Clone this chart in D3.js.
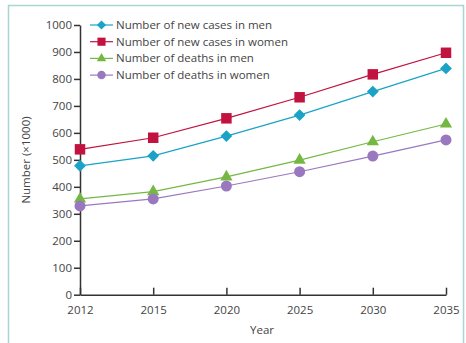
<!DOCTYPE html>
<html>
<head>
<meta charset="utf-8">
<script src="https://cdn.jsdelivr.net/npm/d3@7"></script>
<style>
  body { margin: 0; background: #fff; }
  svg { display: block; font-family: "Open Sans", sans-serif; }
</style>
</head>
<body>
<div id="chart"></div>
<script>
const years = ['2012', '2015', '2020', '2025', '2030', '2035']
const yTicks = [0, 100, 200, 300, 400, 500, 600, 700, 800, 900, 1000]

const casesMen = [478, 515, 588, 666, 753, 839]
const casesWomen = [539, 582, 654, 732, 817, 897]
const deathsMen = [355, 382, 437, 499, 567, 633]
const deathsWomen = [329, 355, 403, 456, 514, 574]

const seriesNames = ['Number of new cases in men', 'Number of new cases in women',
    'Number of deaths in men', 'Number of deaths in women']
const seriesColors = ['#1aa3c6', '#c2123f', '#74b843', '#9a78bf']
const seriesShapes = [d3.symbolSquare, d3.symbolSquare, d3.symbolTriangle, d3.symbolCircle]
const seriesRotate = [45, 0, 0, 0]
const seriesSizes = [70, 110, 65, 95]
const seriesValues = [casesMen, casesWomen, deathsMen, deathsWomen]

const w = 466
const h = 343

const svg = d3.select('#chart').append('svg')
    .attr('width', w)
    .attr('height', h)

// outer frame
svg.append('rect')
    .attr('x', 8.5).attr('y', 5.5)
    .attr('width', 455).attr('height', 345)
    .attr('fill', 'none')
    .attr('stroke', '#a9d6d1')
    .attr('stroke-width', 1.5)

const xScale = d3.scalePoint().domain(years).range([80, 446])
const yScale = d3.scaleLinear().domain([0, 1000]).range([294.7, 25])

const xAxis = svg.append('g')
    .attr('transform', 'translate(0,294.7)')
    .call(d3.axisBottom(xScale).tickSize(7).tickSizeOuter(0).tickPadding(3))
const yAxis = svg.append('g')
    .attr('transform', 'translate(80,0)')
    .call(d3.axisLeft(yScale).tickValues(yTicks).tickFormat(d3.format('d'))
        .tickSize(6).tickSizeOuter(0).tickPadding(2))

for (const ax of [xAxis, yAxis]) {
    ax.select('.domain').attr('stroke', '#333').attr('stroke-width', 1.5)
    ax.selectAll('.tick line').attr('stroke', '#333').attr('stroke-width', 1.5)
    ax.selectAll('text').attr('fill', '#444').style('font-size', '11.5px')
        .style('font-family', '"Open Sans", sans-serif')
}
// x ticks point up into the plot
xAxis.selectAll('.tick line').attr('y1', -7).attr('y2', 0)
xAxis.selectAll('.tick text').attr('y', 11)

svg.append('text')
    .attr('x', 262).attr('y', 334)
    .attr('text-anchor', 'middle')
    .attr('fill', '#444').style('font-size', '11.5px')
    .text('Year')

svg.append('text')
    .attr('transform', 'translate(30,160) rotate(-90)')
    .attr('text-anchor', 'middle')
    .attr('fill', '#444').style('font-size', '11.5px')
    .text('Number (×1000)')

const line = d3.line()
    .x((d, i) => xScale(years[i]))
    .y((d) => yScale(d))

seriesValues.forEach((vals, s) => {
    svg.append('path')
        .datum(vals)
        .attr('d', line)
        .attr('fill', 'none')
        .attr('stroke', seriesColors[s])
        .attr('stroke-width', 1.2)

    svg.selectAll('.m' + s)
        .data(vals)
        .enter()
        .append('path')
        .attr('class', 'm' + s)
        .attr('d', d3.symbol().type(seriesShapes[s]).size(seriesSizes[s]))
        .attr('transform', (d, i) => 'translate(' + xScale(years[i]) + ',' + yScale(d) + ') rotate(' + seriesRotate[s] + ')')
        .attr('fill', seriesColors[s])
})

// legend
const legend = svg.append('g')
seriesNames.forEach((name, s) => {
    const y = 25 + s * 16.7
    legend.append('line')
        .attr('x1', 90).attr('x2', 113)
        .attr('y1', y).attr('y2', y)
        .attr('stroke', seriesColors[s]).attr('stroke-width', 1.2)
    legend.append('path')
        .attr('d', d3.symbol().type(seriesShapes[s]).size(seriesSizes[s] * 0.6))
        .attr('transform', 'translate(101.5,' + y + ') rotate(' + seriesRotate[s] + ')')
        .attr('fill', seriesColors[s])
    legend.append('text')
        .attr('x', 116).attr('y', y + 4)
        .attr('fill', '#444').style('font-size', '11.5px')
        .text(name)
})
</script>
</body>
</html>
